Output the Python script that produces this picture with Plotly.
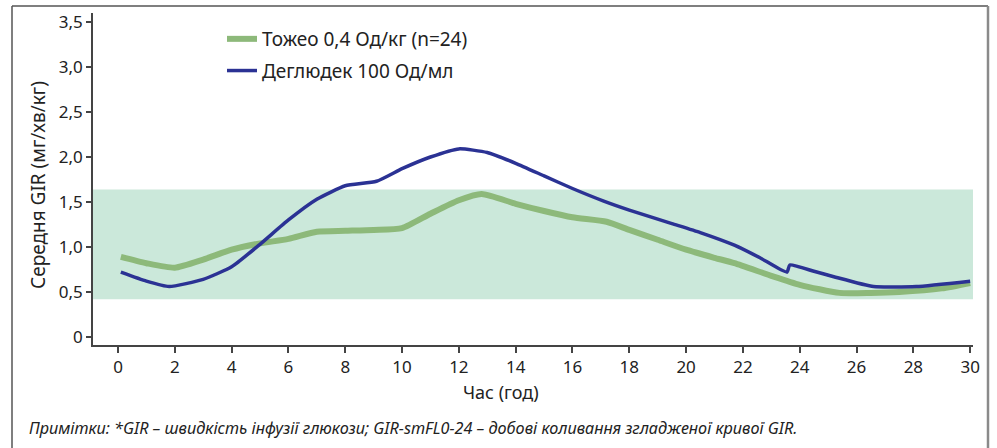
import plotly.graph_objects as go

# Data
toujeo_x = [0.1, 1, 2, 3, 4, 5, 6, 7, 8, 9, 10, 11, 12, 12.8, 14, 15, 16, 17.2, 18, 19, 20, 21, 21.7, 23, 24, 25.4, 26.5, 27.5, 29, 30]
toujeo_y = [0.89, 0.82, 0.77, 0.86, 0.97, 1.04, 1.09, 1.17, 1.18, 1.19, 1.21, 1.37, 1.52, 1.59, 1.48, 1.40, 1.33, 1.28, 1.19, 1.08, 0.97, 0.88, 0.82, 0.68, 0.58, 0.49, 0.49, 0.50, 0.54, 0.60]

degludec_x = [0.1, 1, 1.8, 3, 4, 5, 6, 7, 8, 9.1, 10, 11, 12, 13, 14, 15, 16, 17.1, 18, 19.5, 20.5, 21.7, 22.6, 23.55, 23.65, 24.5, 25.2, 26.6, 28.1, 30]
degludec_y = [0.72, 0.62, 0.56, 0.64, 0.78, 1.03, 1.30, 1.53, 1.68, 1.73, 1.87, 2.00, 2.09, 2.05, 1.93, 1.79, 1.65, 1.51, 1.41, 1.26, 1.16, 1.02, 0.88, 0.72, 0.80, 0.73, 0.67, 0.56, 0.56, 0.62]

band_low, band_high = 0.42, 1.64

y_ticks = [0, 0.5, 1.0, 1.5, 2.0, 2.5, 3.0, 3.5]
y_tick_labels = ["0", "0,5", "1,0", "1,5", "2,0", "2,5", "3,0", "3,5"]
x_ticks = list(range(0, 31, 2))

legend_names = ["Тожео 0,4 Од/кг (n=24)", "Деглюдек 100 Од/мл"]
y_title = "Середня GIR (мг/хв/кг)"
x_title = "Час (год)"
footnote = "Примітки: *GIR – швидкість інфузії глюкози; GIR-smFL0-24 – добові коливання згладженої кривої GIR."

FONT = "Noto Sans"
GREEN = "#8DB97A"
BLUE = "#2B3294"
BAND = "#CBE8DA"
TXT = "#222222"

fig = go.Figure()
fig.add_trace(go.Scatter(
    x=toujeo_x, y=toujeo_y, mode="lines", name=legend_names[0], legendgroup="a",
    line=dict(color=GREEN, width=6, shape="spline", smoothing=0.6),
))
fig.add_trace(go.Scatter(
    x=degludec_x, y=degludec_y, mode="lines", name=legend_names[1], legendgroup="b",
    line=dict(color=BLUE, width=3.5, shape="spline", smoothing=0.5),
))

# margins so that the plot area is x 93..973, y 13..345
L, R, T, B = 93, 24, 13, 103
W, H = 997, 448
pw, ph = W - L - R, H - T - B

def px_x(p):
    return (p - L) / pw

def px_y(p):
    return (H - B - p) / ph

shapes = [
    dict(type="rect", xref="paper", yref="y", x0=0, x1=1, y0=band_low, y1=band_high,
         fillcolor=BAND, line=dict(width=0), layer="below"),
    # outer frame
    dict(type="line", xref="paper", yref="paper", x0=px_x(12), x1=px_x(988), y0=px_y(6), y1=px_y(6),
         line=dict(color="#555555", width=1.5)),
    dict(type="line", xref="paper", yref="paper", x0=px_x(12), x1=px_x(12), y0=px_y(6), y1=px_y(470),
         line=dict(color="#555555", width=1.5)),
    dict(type="line", xref="paper", yref="paper", x0=px_x(988), x1=px_x(988), y0=px_y(6), y1=px_y(470),
         line=dict(color="#8a8a8a", width=2.5)),
]

annotations = [
    dict(text=x_title, xref="paper", yref="paper", x=px_x(501), y=px_y(392), showarrow=False,
         xanchor="center", yanchor="middle", font=dict(family=FONT, size=18, color=TXT)),
    dict(text="<i>" + footnote + "</i>", xref="paper", yref="paper", x=px_x(27), y=px_y(428),
         showarrow=False, xanchor="left", yanchor="middle",
         font=dict(family=FONT, size=16.2, color=TXT)),
    dict(text=y_title, xref="paper", yref="paper", x=px_x(38), y=px_y(185), showarrow=False,
         textangle=-90, xanchor="center", yanchor="middle", font=dict(family=FONT, size=19, color=TXT)),
]

fig.update_layout(
    width=W, height=H,
    margin=dict(l=L, r=R, t=T, b=B, autoexpand=False),
    paper_bgcolor="white", plot_bgcolor="white",
    separators=", ",
    font=dict(family=FONT, size=17, color=TXT),
    showlegend=True,
    legend=dict(x=px_x(222), y=px_y(20), xanchor="left", yanchor="top",
                font=dict(family=FONT, size=19, color=TXT),
                bgcolor="rgba(0,0,0,0)", traceorder="grouped", tracegroupgap=4),
    shapes=shapes,
    annotations=annotations,
    xaxis=dict(range=[-0.88, 30.1], tickvals=x_ticks, ticks="outside", ticklen=6, tickwidth=1.5,
               tickcolor="#444444", showline=True, linecolor="#444444", linewidth=1.5,
               showgrid=False, zeroline=False, automargin=False,
               tickfont=dict(family=FONT, size=17, color=TXT)),
    yaxis=dict(range=[-0.089, 3.6], tickvals=y_ticks, ticktext=y_tick_labels, ticks="outside",
               ticklen=5, tickwidth=1.5, tickcolor="#444444", showline=True, linecolor="#444444",
               linewidth=1.5, showgrid=False, zeroline=False, automargin=False,
               tickfont=dict(family=FONT, size=17, color=TXT)),
)

fig.write_html("out.html", config={"displayModeBar": False},
               post_script="document.body.style.margin='0';")
